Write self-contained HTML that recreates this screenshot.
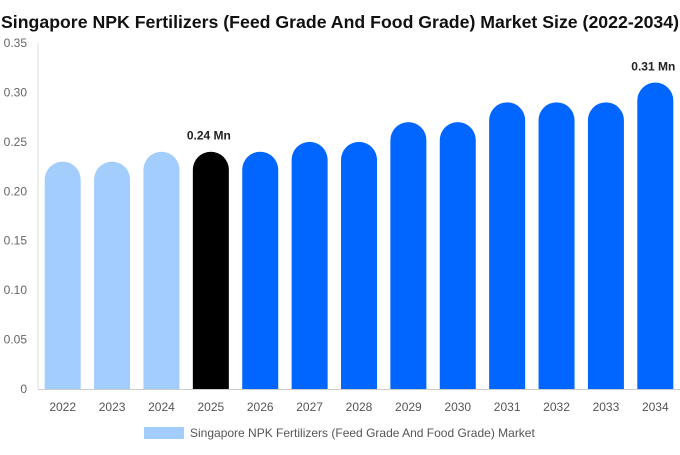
<!DOCTYPE html>
<html><head><meta charset="utf-8"><style>
body{margin:0;background:#fff;width:680px;height:450px;overflow:hidden;font-family:"Liberation Sans",sans-serif}
</style></head><body>
<svg id="c" width="680" height="450">
<text x="340" y="28" text-anchor="middle" font-size="17.5" font-weight="bold" fill="#111" textLength="678" lengthAdjust="spacingAndGlyphs">Singapore NPK Fertilizers (Feed Grade And Food Grade) Market Size (2022-2034)</text>
<g id="g"></g>
<rect x="144" y="427" width="40" height="12" fill="#a3cdfd"/>
<text x="190" y="437" font-size="12" fill="#555">Singapore NPK Fertilizers (Feed Grade And Food Grade) Market</text>
</svg>
<script>
const categories=["2022","2023","2024","2025","2026","2027","2028","2029","2030","2031","2032","2033","2034"];
const values=[0.23,0.23,0.24,0.24,0.24,0.25,0.25,0.27,0.27,0.29,0.29,0.29,0.31];
const yTicks=[0,0.05,0.10,0.15,0.20,0.25,0.30,0.35];
const yTickLabels=["0","0.05","0.10","0.15","0.20","0.25","0.30","0.35"];
const labels={"2025":"0.24 Mn","2034":"0.31 Mn"};
const L=38,R=680,T=43,B=389,ymax=0.35;
const y=v=>B-(v/ymax)*(B-T);
const bw=(R-L)/categories.length;
const x=i=>L+bw*i+bw/2;
const g=document.getElementById('g');
const ns="http://www.w3.org/2000/svg";
function mk(t,a){const e=document.createElementNS(ns,t);for(const k in a)e.setAttribute(k,a[k]);g.appendChild(e);return e;}
let ax=mk('line',{x1:L,x2:L,y1:T,y2:B,stroke:'#ddd'});


let bx=mk('line',{x1:L,x2:R,y1:B+0.5,y2:B+0.5,stroke:'#ccc'});


yTicks.forEach((t,i)=>{
 const e=mk('text',{x:27,y:y(t)+4,'text-anchor':'end','font-size':12,fill:'#666'});
 e.textContent=yTickLabels[i];
 
 
});
categories.forEach((c,i)=>{
 const v=values[i],cx=x(i),w=36,r=18,top=y(v);
 const col=i<3?'#a3cdfd':(i===3?'#000':'#0066ff');
 const p=mk('path',{d:`M${cx-w/2},${B} L${cx-w/2},${top+r} A${r},${r} 0 0 1 ${cx+w/2},${top+r} L${cx+w/2},${B} Z`,fill:col});
 
 
 const t=mk('text',{x:cx,y:411,'text-anchor':'middle','font-size':12,fill:'#555'});
 t.textContent=c;
 
 
 if(labels[c]){
  const l=mk('text',{x:cx-2,y:top-12,'text-anchor':'middle','font-size':12,'font-weight':'bold',fill:'#222'});
  l.textContent=labels[c];
  
  
 }
});
</script>
</body></html>
